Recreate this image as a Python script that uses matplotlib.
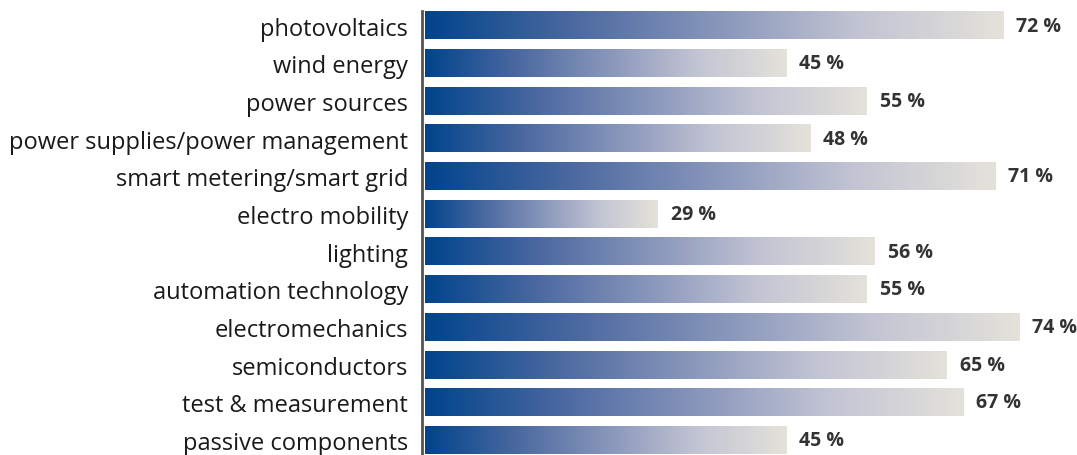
import numpy as np
import matplotlib.pyplot as plt
from matplotlib.colors import LinearSegmentedColormap

plt.rcParams['font.family'] = ['Open Sans', 'DejaVu Sans']

categories = ['photovoltaics', 'wind energy', 'power sources',
              'power supplies/power management', 'smart metering/smart grid',
              'electro mobility', 'lighting', 'automation technology',
              'electromechanics', 'semiconductors', 'test & measurement',
              'passive components']
values = [72, 45, 55, 48, 71, 29, 56, 55, 74, 65, 67, 45]

cmap = LinearSegmentedColormap.from_list(
    'bar', ['#00448c', '#4a68a0', '#8795ba', '#c2c4d3', '#e4e2da'])

W, H = 1077, 456
fig = plt.figure(figsize=(W / 100, H / 100), dpi=100)
px_per = 8.03            # pixels per percent
pitch = 37.7             # pixels per row
ax_left = 422
ax = fig.add_axes([ax_left / W, 0, 1 - ax_left / W, 1])

x0 = -3 / px_per
ax.set_xlim(x0, x0 + (W - ax_left) / px_per)
ax.set_ylim((H - 26.5) / pitch, -26.5 / pitch)

bar_h = 0.73
grad = np.linspace(0, 1, 256).reshape(1, -1)
for i, (cat, v) in enumerate(zip(categories, values)):
    ax.imshow(grad, extent=[0, v, i + bar_h / 2, i - bar_h / 2],
              aspect='auto', cmap=cmap, interpolation='bilinear', zorder=2)
    ax.text(v + 13 / px_per, i, f'{v} %', va='center', ha='left',
            fontsize=14, fontweight='bold', color='#333333')

ax.set_aspect('auto')
ax.set_yticks(range(len(categories)))
ax.set_yticklabels(categories, fontsize=17, color='#1a1a1a')
ax.tick_params(axis='y', length=0, pad=10)
ax.set_xticks([])
for s in ['top', 'right', 'bottom']:
    ax.spines[s].set_visible(False)
ax.spines['left'].set_color('#555555')
ax.spines['left'].set_linewidth(2)
ax.spines['left'].set_bounds(-0.38, 12)

fig.savefig('out.png', dpi=100)
